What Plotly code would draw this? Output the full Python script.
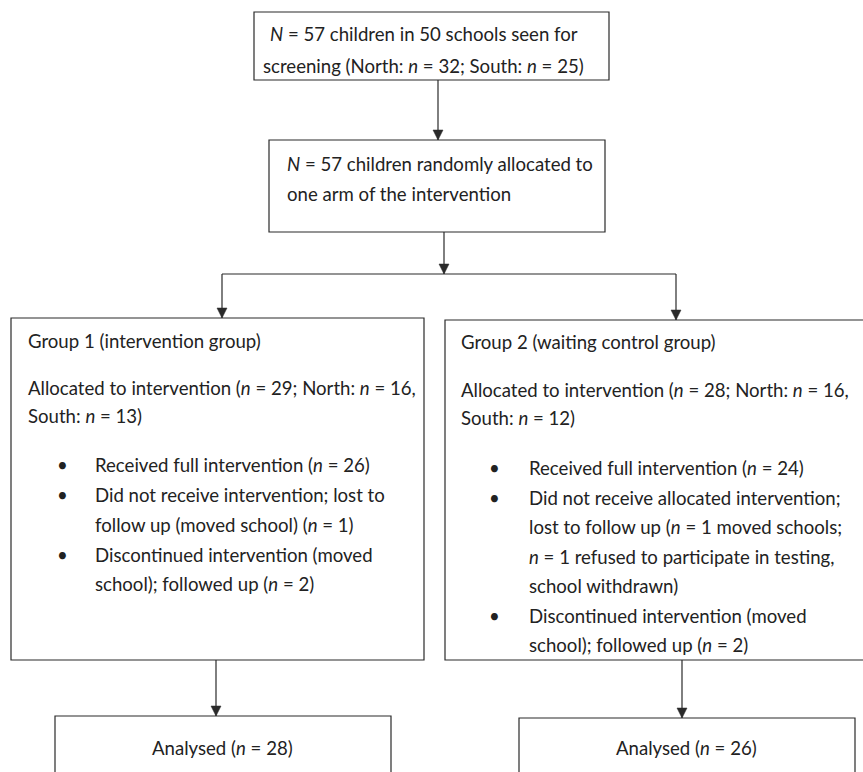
import plotly.graph_objects as go

# ---- content (text values) ----
screen_lines = ["<i>N</i> = 57 children in 50 schools seen for",
                "screening (North: <i>n</i> = 32; South: <i>n</i> = 25)"]
alloc_lines = ["<i>N</i> = 57 children randomly allocated to",
               "one arm of the intervention"]
g1_head = ["Group 1 (intervention group)"]
g1_alloc = ["Allocated to intervention (<i>n</i> = 29; North: <i>n</i> = 16,",
            "South: <i>n</i> = 13)"]
g1_bullets = [["Received full intervention (<i>n</i> = 26)"],
              ["Did not receive intervention; lost to",
               "follow up (moved school) (<i>n</i> = 1)"],
              ["Discontinued intervention (moved",
               "school); followed up (<i>n</i> = 2)"]]
g2_head = ["Group 2 (waiting control group)"]
g2_alloc = ["Allocated to intervention (<i>n</i> = 28; North: <i>n</i> = 16,",
            "South: <i>n</i> = 12)"]
g2_bullets = [["Received full intervention (<i>n</i> = 24)"],
              ["Did not receive allocated intervention;",
               "lost to follow up (<i>n</i> = 1 moved schools;",
               "<i>n</i> = 1 refused to participate in testing,",
               "school withdrawn)"],
              ["Discontinued intervention (moved",
               "school); followed up (<i>n</i> = 2)"]]
analysed = ["Analysed (<i>n</i> = 28)", "Analysed (<i>n</i> = 26)"]

# ---- layout geometry (pixel space) ----
W, H = 863, 772
boxes = [(254, 12, 609, 80), (269, 140, 605, 232),
         (11, 318, 424, 660), (445, 320, 875, 660),
         (55, 716, 391, 800), (519, 718, 855, 800)]
arrows = [((438, 80), (438, 140)), ((444, 232), (444, 274)),
          ((222, 274), (222, 318)), ((676, 274), (676, 320)),
          ((216, 660), (216, 716)), ((682, 660), (682, 718))]
plain_lines = [((222, 274), (676, 274))]

FONT = "Lato, 'Open Sans', sans-serif"
FS = 18.6
TXT = "#222222"
LINE = "#2a2a2a"

fig = go.Figure()
shapes = []
annotations = []

for (x0, y0, x1, y1) in boxes:
    shapes.append(dict(type="rect", xref="x", yref="y", x0=x0, y0=y0, x1=x1, y1=y1,
                       line=dict(color=LINE, width=1.2), fillcolor="rgba(0,0,0,0)"))

for (p0, p1) in plain_lines + arrows:
    shapes.append(dict(type="line", xref="x", yref="y", x0=p0[0], y0=p0[1], x1=p1[0], y1=p1[1],
                       line=dict(color=LINE, width=1.2)))

for (p0, p1) in arrows:
    tx, ty = p1
    hw, hl = 5, 10
    shapes.append(dict(type="path", xref="x", yref="y",
                       path=f"M {tx} {ty} L {tx-hw} {ty-hl} L {tx+hw} {ty-hl} Z",
                       fillcolor=LINE, line=dict(color=LINE, width=0.5)))


def add_text(text, x, y, anchor="left", size=FS):
    annotations.append(dict(text=text, x=x, y=y, xref="x", yref="y", showarrow=False,
                            xanchor=anchor, yanchor="middle",
                            font=dict(family=FONT, size=size, color=TXT)))


# box 1
add_text(screen_lines[0], 268, 34)
add_text(screen_lines[1], 261, 66)
# box 2
add_text(alloc_lines[0], 285, 164)
add_text(alloc_lines[1], 285, 194)

# group boxes
def group(head, alloc, bullets, xl, xb, xt, y_head, y_alloc, y_bul, step):
    add_text(head[0], xl, y_head)
    for i, t in enumerate(alloc):
        add_text(t, xl, y_alloc + i * 28)
    y = y_bul
    for b in bullets:
        add_text("•", xb, y, anchor="center", size=FS)
        for t in b:
            add_text(t, xt, y)
            y += step
        y += 1

group(g1_head, g1_alloc, g1_bullets, 26, 62, 93, 341, 388, 465, 29.3)
group(g2_head, g2_alloc, g2_bullets, 459, 494, 527, 342, 390, 468, 29.2)

add_text(analysed[0], 222, 748, anchor="center")
add_text(analysed[1], 686, 748, anchor="center")

fig.update_layout(
    width=W, height=H, margin=dict(l=0, r=0, t=0, b=0),
    paper_bgcolor="white", plot_bgcolor="white",
    xaxis=dict(range=[0, W], visible=False, fixedrange=True),
    yaxis=dict(range=[H, 0], visible=False, fixedrange=True),
    shapes=shapes, annotations=annotations, showlegend=False,
)
fig.write_html("out.html", config={"displayModeBar": False},
               post_script="document.body.style.margin='0';document.body.style.overflow='hidden';")
